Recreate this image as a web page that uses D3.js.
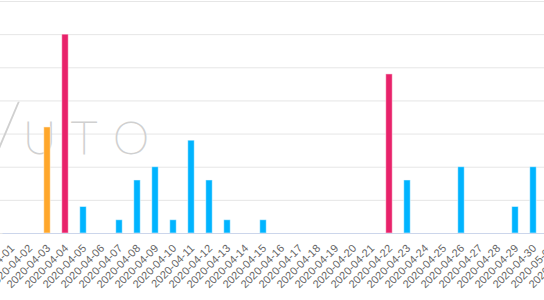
<!DOCTYPE html>
<html>
<head>
<meta charset="utf-8">
<script src="https://cdn.jsdelivr.net/npm/d3@7"></script>
<style>
  body { margin: 0; background: #fff; }
  svg { display: block; font-family: "Liberation Sans", Arial, sans-serif; }
</style>
</head>
<body>
<svg width="544" height="300"></svg>
<script>
// categories (one per day)
var dates = ["2020-04-01", "2020-04-02", "2020-04-03", "2020-04-04", "2020-04-05", "2020-04-06",
             "2020-04-07", "2020-04-08", "2020-04-09", "2020-04-10", "2020-04-11", "2020-04-12",
             "2020-04-13", "2020-04-14", "2020-04-15", "2020-04-16", "2020-04-17", "2020-04-18",
             "2020-04-19", "2020-04-20", "2020-04-21", "2020-04-22", "2020-04-23", "2020-04-24",
             "2020-04-25", "2020-04-26", "2020-04-27", "2020-04-28", "2020-04-29", "2020-04-30",
             "2020-05-01", "2020-05-02"];

// three series, one colour each
var normal   = [0, 0, 0, 0, 2, 0, 1, 4, 5, 1, 7, 4, 1, 0, 1, 0, 0, 0, 0, 0, 0, 0, 4, 0, 0, 5, 0, 0, 2, 5, 0, 0];
var warning  = [0, 0, 8, 0, 0, 0, 0, 0, 0, 0, 0, 0, 0, 0, 0, 0, 0, 0, 0, 0, 0, 0, 0, 0, 0, 0, 0, 0, 0, 0, 0, 0];
var critical = [0, 0, 0, 15, 0, 0, 0, 0, 0, 0, 0, 0, 0, 0, 0, 0, 0, 0, 0, 0, 0, 12, 0, 0, 0, 0, 0, 0, 0, 0, 0, 0];

var yTicks = [0, 2.5, 5, 7.5, 10, 12.5, 15, 17.5];

var svg = d3.select("svg"),
    w = +svg.attr("width"),
    h = +svg.attr("height"),
    base = 233;

// the plot is wider than the window: y axis sits off to the left
var x = d3.scaleBand()
    .domain(dates)
    .range([2, 2 + 18 * dates.length])
    .paddingInner(0.64)
    .paddingOuter(0.32);

var y = d3.scaleLinear().domain([0, 17.5]).range([base, 1]);

//grid lines
svg.append("g")
    .attr("class", "grid")
    .call(d3.axisLeft(y).tickValues(yTicks).tickSize(-w).tickFormat(""))
    .call(function(g) { g.select(".domain").remove(); })
    .selectAll("line")
    .attr("stroke", "#e6e6e6");

//watermark
var wm = svg.append("g")
    .attr("fill", "none")
    .attr("stroke", "#d0d0d0")
    .attr("stroke-width", 1)
    .style("font-family", "Lato, 'Open Sans', sans-serif")
    .style("font-weight", 100);
wm.append("text").attr("x", -6).attr("y", 150).attr("font-size", 66).text("/");
wm.append("text").attr("x", 23).attr("y", 154).attr("font-size", 46).text("U");
wm.append("text").attr("x", 71).attr("y", 154).attr("font-size", 46).text("T");
wm.append("text").attr("x", 113).attr("y", 154).attr("font-size", 46).text("O");

//bars
var series = [
  {values: normal,   color: "#00b4ff"},
  {values: warning,  color: "#ffa72b"},
  {values: critical, color: "#e8226a"}
];

series.forEach(function(s) {
  svg.append("g")
    .selectAll("rect")
    .data(dates.map(function(d, i) { return {date: d, v: s.values[i]}; })
               .filter(function(d) { return d.v > 0; }))
    .enter()
    .append("rect")
    .attr("x", function(d) { return x(d.date); })
    .attr("y", function(d) { return y(d.v); })
    .attr("width", x.bandwidth())
    .attr("height", function(d) { return base - y(d.v); })
    .attr("fill", s.color)
    .attr("stroke", "#fff")
    .attr("stroke-opacity", 0.5)
    .attr("stroke-width", 1);
});

//x axis
var xAxis = svg.append("g")
    .attr("transform", "translate(0," + base + ")")
    .call(d3.axisBottom(x).tickSize(0).tickPadding(0));

xAxis.select(".domain").attr("stroke", "#ccd6eb");

xAxis.selectAll("text")
    .attr("fill", "#666")
    .attr("font-size", 11)
    .attr("dy", null)
    .attr("y", 0)
    .attr("text-anchor", "end")
    .attr("transform", "translate(4,16) rotate(-45)");
</script>
</body>
</html>
